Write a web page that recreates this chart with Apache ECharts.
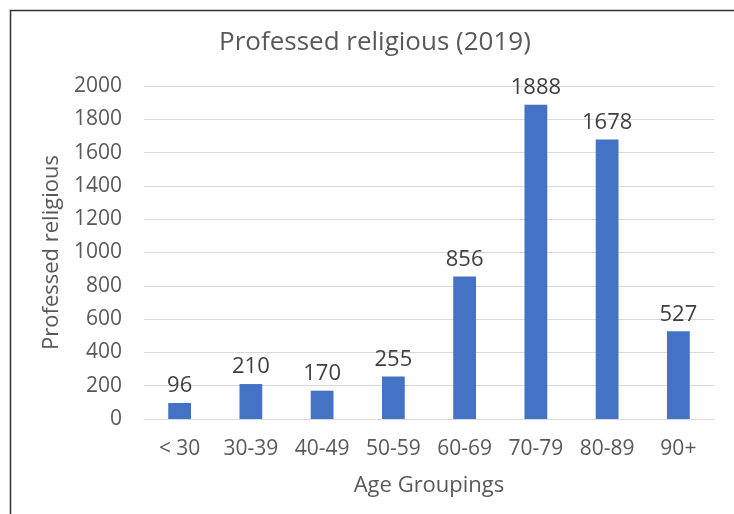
<!DOCTYPE html>
<html lang="en">
<head>
    <meta charset="UTF-8">
    <title>Professed religious (2019)</title>
    <style>
        html, body { margin: 0; padding: 0; background: #fff; }
        #main { width: 734px; height: 514px; }
    </style>
</head>
<body>
<script src="https://cdn.jsdelivr.net/npm/echarts@6/dist/echarts.min.js"></script>
<div id="main"></div>
<script>
    var categories = ['< 30', '30-39', '40-49', '50-59', '60-69', '70-79', '80-89', '90+'];
    var counts = [96, 210, 170, 255, 856, 1888, 1678, 527];
    var yTicks = { min: 0, max: 2000, interval: 200 };

    var font = 'Open Sans, Liberation Sans, sans-serif';
    var grey = '#595959';

    var chart = echarts.init(document.getElementById('main'));
    chart.setOption({
        animation: false,
        title: {
            text: 'Professed religious (2019)',
            left: 214,
            top: 25,
            textStyle: { fontFamily: font, fontSize: 26, fontWeight: 'normal', color: grey }
        },
        graphic: [{
            type: 'rect',
            shape: { x: 10.5, y: 10.5, width: 740, height: 530 },
            style: { fill: 'none', stroke: '#333', lineWidth: 1.5 }
        }],
        grid: { left: 144, right: 20, top: 86, bottom: 95 },
        xAxis: {
            type: 'category',
            data: categories,
            name: 'Age Groupings',
            nameLocation: 'middle',
            nameGap: 56,
            nameMoveOverlap: false,
            nameTextStyle: { fontFamily: font, fontSize: 22, color: grey },
            axisLine: { lineStyle: { color: '#d9d9d9' } },
            axisTick: { show: false },
            axisLabel: { fontFamily: font, fontSize: 21, color: grey, margin: 20, interval: 0, hideOverlap: false }
        },
        yAxis: {
            type: 'value',
            min: yTicks.min,
            max: yTicks.max,
            interval: yTicks.interval,
            name: 'Professed religious',
            nameLocation: 'middle',
            nameGap: 81,
            nameMoveOverlap: false,
            nameTextStyle: { fontFamily: font, fontSize: 22, color: grey },
            axisLine: { show: false },
            axisTick: { show: false },
            axisLabel: {
                fontFamily: font, fontSize: 21, color: grey, margin: 22,
                formatter: function (v) { return String(v); }
            },
            splitLine: { lineStyle: { color: '#d9d9d9' } }
        },
        series: [{
            type: 'bar',
            data: counts,
            barWidth: '32%',
            itemStyle: { color: '#4472C4' },
            label: {
                show: true,
                position: 'top',
                distance: 6,
                fontFamily: font,
                fontSize: 22,
                color: '#404040'
            }
        }]
    });
</script>
</body>
</html>
